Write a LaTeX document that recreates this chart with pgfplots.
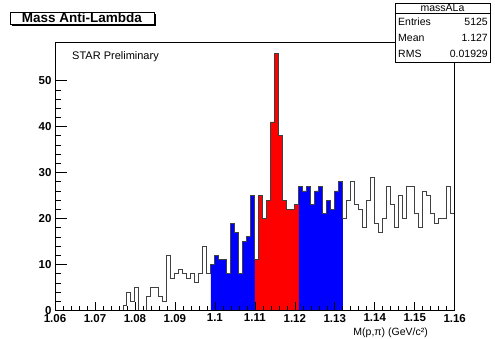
\documentclass[border=0pt]{standalone}
\usepackage{pgfplots}
\pgfplotsset{compat=1.18}
\usepackage{pgfplotstable}
\usepackage{fontspec}
\setmainfont{Liberation Sans}

\pgfplotstableread{
x y
1.060 0
1.061 0
1.062 0
1.063 0
1.064 0
1.065 0
1.066 0
1.067 0
1.068 0
1.069 0
1.070 0
1.071 0
1.072 0
1.073 0
1.074 0
1.075 0
1.076 0
1.077 1
1.078 4
1.079 2
1.080 5
1.081 0
1.082 0
1.083 3
1.084 5
1.085 5
1.086 3
1.087 2
1.088 12
1.089 7
1.090 8
1.091 9
1.092 8
1.093 7
1.094 8
1.095 6
1.096 8
1.097 14
1.098 8
1.099 10
1.100 12
1.101 11
1.102 11
1.103 8
1.104 19
1.105 17
1.106 8
1.107 15
1.108 16
1.109 25
1.110 11
1.111 25
1.112 20
1.113 24
1.114 41
1.115 56
1.116 38
1.117 24
1.118 22
1.119 22
1.120 23
1.121 27
1.122 26
1.123 27
1.124 23
1.125 26
1.126 27
1.127 21
1.128 24
1.129 22
1.130 26
1.131 28
1.132 20
1.133 24
1.134 28
1.135 23
1.136 22
1.137 18
1.138 24
1.139 29
1.140 19
1.141 17
1.142 20
1.143 27
1.144 23
1.145 18
1.146 25
1.147 20
1.148 27
1.149 27
1.150 21
1.151 18
1.152 26
1.153 25
1.154 21
1.155 19
1.156 20
1.157 20
1.158 27
1.159 21
1.160 21
}\histdata

\begin{document}
\begin{tikzpicture}
\path[use as bounding box] (0,0) rectangle (495pt,339pt);
\begin{axis}[
  at={(55pt,28.5pt)}, anchor=south west,
  scale only axis, width=399.7pt, height=268.5pt,
  xmin=1.06, xmax=1.16, ymin=0, ymax=58.4,
  axis line style={black, line width=0.8pt},
  axis on top,
  tick pos=left, tick align=inside,
  xtick={1.06,1.07,1.08,1.09,1.10,1.11,1.12,1.13,1.14,1.15,1.16},
  xticklabels={1.06,1.07,1.08,1.09,1.1,1.11,1.12,1.13,1.14,1.15,1.16},
  ytick={0,10,20,30,40,50},
  yticklabels={0,10,20,30,40,50},
  minor x tick num=4, minor y tick num=4,
  xtick style={black, line width=0.6pt, /pgfplots/major tick length=8pt, /pgfplots/minor tick length=4pt},
  ytick style={black, line width=0.6pt, /pgfplots/major tick length=12pt, /pgfplots/minor tick length=6pt},
  tick label style={font=\fontsize{11.5}{11.5}\selectfont\bfseries},
  /pgf/number format/assume math mode=true,
]
\addplot[const plot, fill=blue, draw=none, restrict x to domain=1.0985:1.1105] table[x=x,y=y] {\histdata} \closedcycle;
\addplot[const plot, fill=red, draw=none, restrict x to domain=1.1095:1.1215] table[x=x,y=y] {\histdata} \closedcycle;
\addplot[const plot, fill=blue, draw=none, restrict x to domain=1.1205:1.1325] table[x=x,y=y] {\histdata} \closedcycle;
\addplot[const plot, black!75, line width=0.9pt, mark=none] table[x=x,y=y] {\histdata};
\end{axis}
% title box
\fill[black] (12pt,313pt) rectangle (156pt,325pt);
\draw[fill=white, line width=0.8pt] (10pt,315pt) rectangle (154pt,327pt);
\node[inner sep=0pt, font=\fontsize{13.5}{13.5}\selectfont\bfseries] at (82pt,321pt) {Mass Anti-Lambda};
% stats box
\draw[fill=white, line width=0.8pt] (395pt,277pt) rectangle (490pt,336pt);
\draw[line width=0.8pt] (395pt,325.5pt) -- (490pt,325.5pt);
\begin{scope}[every node/.style={inner sep=0pt, font=\fontsize{10.5}{10.5}\selectfont}]
\node at (442.5pt,331pt) {massALa};
\node[anchor=west] at (398pt,317pt) {Entries};
\node[anchor=east] at (488pt,317pt) {5125};
\node[anchor=west] at (398pt,301pt) {Mean};
\node[anchor=east] at (488pt,301pt) {1.127};
\node[anchor=west] at (398pt,285pt) {RMS};
\node[anchor=east] at (488pt,285pt) {0.01929};
\end{scope}
\node[inner sep=0pt, anchor=west, font=\fontsize{11}{11}\selectfont] at (72pt,282pt) {STAR Preliminary};
\node[inner sep=0pt, anchor=east, font=\fontsize{10.5}{10.5}\selectfont] at (428pt,6pt) {M(p,π) (GeV/c²)};
\end{tikzpicture}
\end{document}
